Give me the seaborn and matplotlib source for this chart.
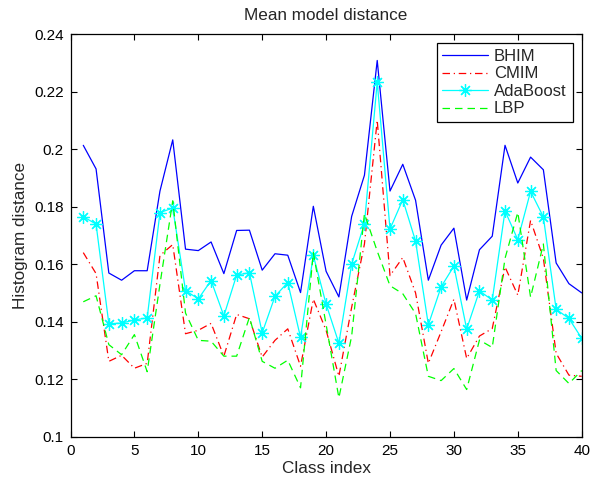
import numpy as np
import pandas as pd
import matplotlib
matplotlib.use("Agg")
import matplotlib.pyplot as plt
import seaborn as sns

class_index = list(range(1, 41))
bhim = [0.2013, 0.1931, 0.1569, 0.1544, 0.1577, 0.1577, 0.1854, 0.2032, 0.1652, 0.1647,
        0.1677, 0.1567, 0.1717, 0.1718, 0.1579, 0.1636, 0.1631, 0.1501, 0.1801, 0.1575,
        0.1486, 0.1766, 0.1909, 0.2308, 0.1854, 0.1947, 0.1822, 0.1544, 0.1666, 0.1725,
        0.1475, 0.1650, 0.1697, 0.2013, 0.1882, 0.1972, 0.1928, 0.1604, 0.1532, 0.1500]
cmim = [0.1640, 0.1567, 0.1262, 0.1283, 0.1238, 0.1255, 0.1630, 0.1668, 0.1358, 0.1370,
        0.1394, 0.1280, 0.1425, 0.1410, 0.1277, 0.1335, 0.1375, 0.1245, 0.1478, 0.1370,
        0.1210, 0.1450, 0.1670, 0.2100, 0.1560, 0.1623, 0.1500, 0.1255, 0.1365, 0.1478,
        0.1272, 0.1350, 0.1376, 0.1590, 0.1492, 0.1752, 0.1620, 0.1290, 0.1214, 0.1210]
adaboost = [0.1765, 0.1739, 0.1393, 0.1395, 0.1406, 0.1413, 0.1779, 0.1795, 0.1508, 0.1479,
            0.1543, 0.1420, 0.1562, 0.1570, 0.1361, 0.1488, 0.1536, 0.1345, 0.1630, 0.1461,
            0.1325, 0.1600, 0.1741, 0.2233, 0.1722, 0.1824, 0.1680, 0.1389, 0.1521, 0.1593,
            0.1374, 0.1507, 0.1475, 0.1785, 0.1685, 0.1853, 0.1764, 0.1443, 0.1411, 0.1342]
lbp = [0.1469, 0.1490, 0.1320, 0.1285, 0.1355, 0.1226, 0.1530, 0.1820, 0.1430, 0.1335,
       0.1332, 0.1280, 0.1280, 0.1415, 0.1262, 0.1238, 0.1266, 0.1170, 0.1640, 0.1390,
       0.1135, 0.1350, 0.1775, 0.1645, 0.1525, 0.1497, 0.1428, 0.1210, 0.1195, 0.1237,
       0.1164, 0.1336, 0.1310, 0.1620, 0.1780, 0.1485, 0.1670, 0.1230, 0.1185, 0.1230]

x_ticks = [0, 5, 10, 15, 20, 25, 30, 35, 40]
y_ticks = [0.1, 0.12, 0.14, 0.16, 0.18, 0.2, 0.22, 0.24]
y_tick_labels = ["0.1", "0.12", "0.14", "0.16", "0.18", "0.2", "0.22", "0.24"]

sns.set_theme(style="white")
plt.rcParams["font.family"] = ["Liberation Sans", "DejaVu Sans"]

fig = plt.figure(figsize=(5.92, 4.78), dpi=100)
ax = fig.add_axes([70.5 / 592, 1 - 436.7 / 478, 511.2 / 592, (436.7 - 34) / 478])

df = pd.DataFrame({"x": class_index, "BHIM": bhim, "CMIM": cmim,
                   "AdaBoost": adaboost, "LBP": lbp})

sns.lineplot(data=df, x="x", y="BHIM", ax=ax, color="#0000ff", lw=0.9, label="BHIM")
sns.lineplot(data=df, x="x", y="CMIM", ax=ax, color="#ff0000", lw=0.9,
             linestyle=(0, (6, 3, 1, 3)), label="CMIM")
sns.lineplot(data=df, x="x", y="AdaBoost", ax=ax, color="#00ffff", lw=0.9,
             marker=(8, 2, 0), markersize=9, markeredgecolor="#00ffff",
             markeredgewidth=0.9, label="AdaBoost")
sns.lineplot(data=df, x="x", y="LBP", ax=ax, color="#00ff00", lw=0.9,
             linestyle=(0, (6, 4)), label="LBP")

ax.set_xlim(0, 40)
ax.set_ylim(0.1, 0.24)
ax.set_xticks(x_ticks)
ax.set_xticklabels([str(t) for t in x_ticks])
ax.set_yticks(y_ticks)
ax.set_yticklabels(y_tick_labels)
ax.tick_params(direction="in", length=4, width=0.8, top=True, right=True,
               bottom=True, left=True, labelsize=11, colors="black", pad=5)
for s in ax.spines.values():
    s.set_color("black")
    s.set_linewidth(0.9)

ax.set_title("Mean model distance", fontsize=12.3, pad=10)
ax.set_xlabel("Class index", fontsize=12.3, labelpad=2.5)
ax.set_ylabel("Histogram distance", fontsize=12.3, labelpad=4)

leg = ax.legend(loc="upper right", fontsize=12, frameon=True, fancybox=False,
                edgecolor="black", framealpha=1, borderaxespad=0.55,
                handlelength=2.75, labelspacing=0.15, borderpad=0.35, handletextpad=0.35)
leg.get_frame().set_linewidth(0.9)

fig.savefig("out.png", dpi=100)
